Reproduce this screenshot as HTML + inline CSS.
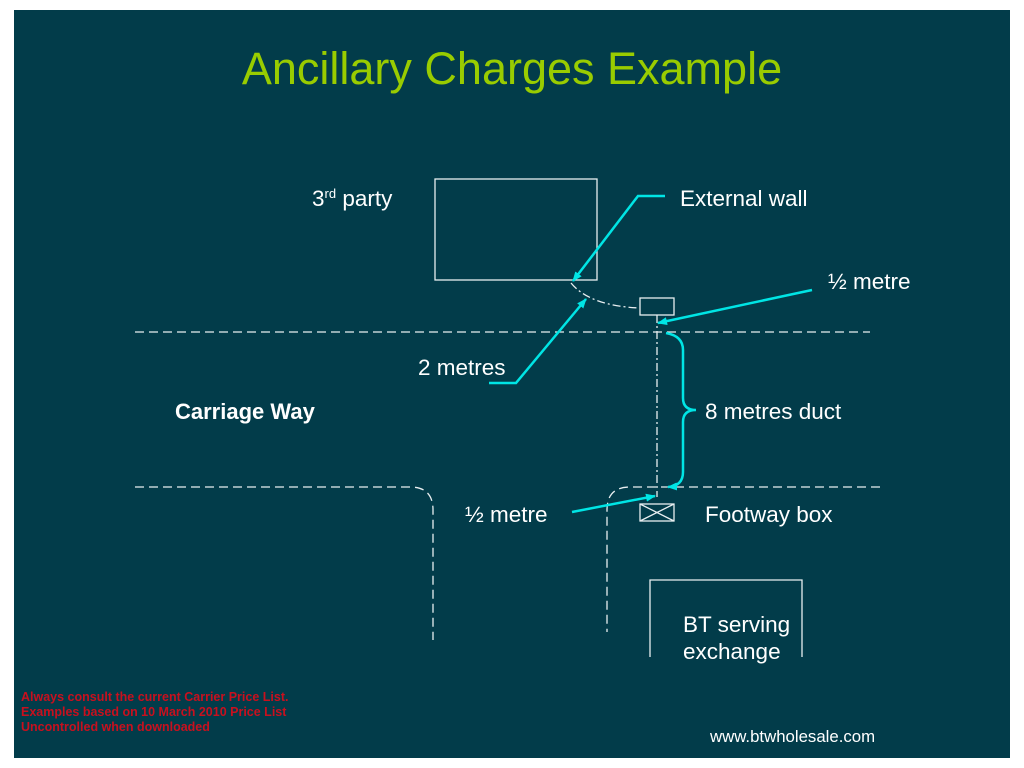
<!DOCTYPE html>
<html><head><meta charset="utf-8"><style>
html,body{margin:0;padding:0;background:#fff;}
body{width:1024px;height:768px;position:relative;overflow:hidden;font-family:"Liberation Sans",sans-serif;}
#p{position:absolute;left:14px;top:10px;width:996px;height:748px;background:#023c4a;}
svg{position:absolute;left:0;top:0;}
</style></head><body>
<div id="p"></div>
<svg width="1024" height="768" viewBox="0 0 1024 768">
<defs><marker id="a" markerWidth="10" markerHeight="8" refX="9" refY="4" orient="auto" markerUnits="userSpaceOnUse"><path d="M0,0 L10,4 L0,8 Z" fill="#00e5e5"/></marker></defs>
<text x="512" y="84" text-anchor="middle" font-size="45" fill="#99cc00" font-family="Liberation Sans">Ancillary Charges Example</text>
<g fill="none" stroke="#e8eef0" stroke-width="1.3">
<rect x="435" y="179" width="162" height="101"/>
<path d="M571,283 Q590,306 640,308" stroke-dasharray="8,3,2,3"/>
<rect x="640" y="298" width="34" height="17"/>
<line x1="657" y1="315" x2="657" y2="497" stroke-dasharray="8,3,2,3"/>
<line x1="135" y1="332" x2="870" y2="332" stroke-dasharray="9,5"/>
<path d="M135,487 L410,487 Q433,487 433,510 L433,640" stroke-dasharray="9,5"/>
<path d="M880,487 L630,487 Q607,487 607,510 L607,632" stroke-dasharray="9,5"/>
<rect x="640" y="504" width="34" height="17"/>
<path d="M640,504 L674,521 M674,504 L640,521"/>
<path d="M650,657 L650,580 L802,580 L802,657"/>
</g>
<g stroke="#00e5e5" stroke-width="2.5" fill="none">
<path d="M665,196 L638,196 L573,281" marker-end="url(#a)"/>
<path d="M812,290 L658,323" marker-end="url(#a)"/>
<path d="M489,383 L516,383 L586,299" marker-end="url(#a)"/>
<path d="M572,512 L655,496" marker-end="url(#a)"/>
<path d="M666,333 Q683,336 683,350 L683,398 Q683,410 696,410 Q683,410 683,422 L683,472 Q683,486 668,487" marker-end="url(#a)"/>
</g>
<g fill="#ffffff" font-size="22.5" font-family="Liberation Sans">
<text x="312" y="206">3<tspan font-size="13" dy="-8">rd</tspan><tspan dy="8"> party</tspan></text>
<text x="680" y="206">External wall</text>
<text x="828" y="289">½ metre</text>
<text x="418" y="375">2 metres</text>
<text x="175" y="419" font-weight="bold" font-size="22">Carriage Way</text>
<text x="705" y="419">8 metres duct</text>
<text x="465" y="522">½ metre</text>
<text x="705" y="522">Footway box</text>
<text x="683" y="632">BT serving</text>
<text x="683" y="659">exchange</text>
<text x="710" y="742" font-size="16.8">www.btwholesale.com</text>
</g>
<g fill="#c8101e" font-size="12.5" font-weight="bold" font-family="Liberation Sans">
<text x="21" y="701">Always consult the current Carrier Price List.</text>
<text x="21" y="716">Examples based on 10 March 2010 Price List</text>
<text x="21" y="731">Uncontrolled when downloaded</text>
</g>
</svg>
</body></html>
